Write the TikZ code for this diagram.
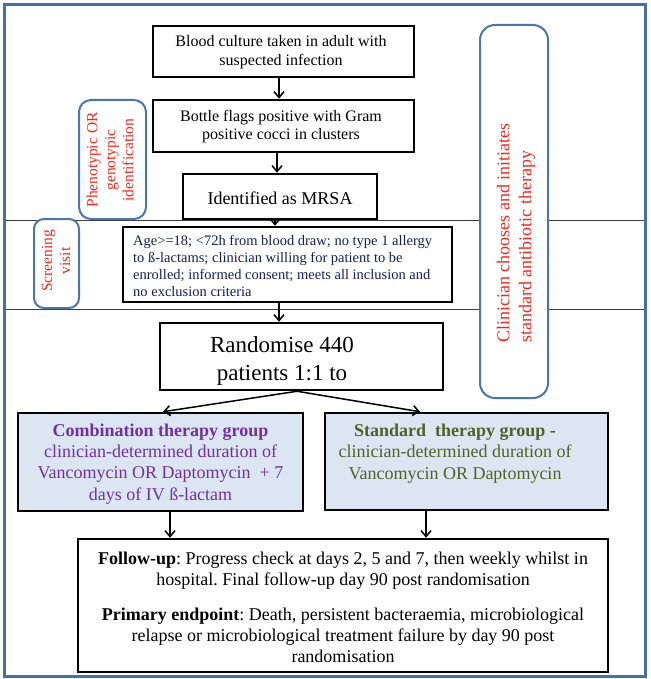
\documentclass[tikz,border=0pt]{standalone}
\usepackage{fontspec}
\setmainfont{Liberation Serif}
\usetikzlibrary{arrows.meta,calc}
\newcommand\myfs[2]{\fontsize{#1}{#2}\selectfont}
\definecolor{frameblue}{RGB}{72,112,162}
\definecolor{rblue}{RGB}{74,118,168}
\definecolor{redtxt}{RGB}{240,40,30}
\definecolor{navytxt}{RGB}{20,30,90}
\definecolor{purpletxt}{RGB}{112,48,160}
\definecolor{olivetxt}{RGB}{79,98,40}
\definecolor{grpfill}{RGB}{220,230,242}
\definecolor{sepgray}{RGB}{60,60,60}
\frenchspacing
\begin{document}
\begin{tikzpicture}[x=1pt,y=-1pt,
  box/.style={draw=black,line width=2.5pt,fill=white,inner sep=0pt},
  grpbox/.style={box,fill=grpfill},
  rbox/.style={draw=rblue,line width=2pt,fill=white,inner sep=0pt},
  txt/.style={inner sep=0pt,align=center},
  vtxt/.style={txt,rotate=90,text=redtxt},
  arr/.style={line width=1.5pt,-{Straight Barb[length=6pt,width=10pt]}},
  sepline/.style={draw=sepgray,line width=1pt}]
\useasboundingbox (0,0) rectangle (650,679);
% frame
\draw[frameblue,line width=3pt] (4.5,4.5) rectangle (645,676);
% separator lines
\coordinate (l1w) at (6,220); \coordinate (l1e) at (643.5,220);
\coordinate (l2w) at (6,309); \coordinate (l2e) at (643.5,309);
\draw[sepline] (l1w) -- (l1e);
\draw[sepline] (l2w) -- (l2e);
% side rounded boxes
\node[rbox,rounded corners=12pt,minimum width=67pt,minimum height=119pt] (pheno) at (112.5,159.5) {};
\node[vtxt,font=\myfs{15.5}{18}] (tp) at (110,160) {Phenotypic OR\\genotypic\\identification};
\node[rbox,rounded corners=10pt,minimum width=45pt,minimum height=89pt] (screen) at (56.5,263.5) {};
\node[vtxt,font=\myfs{15.5}{18}] (ts) at (56,261) {Screening\\visit};
\node[rbox,rounded corners=15pt,minimum width=68pt,minimum height=373pt] (right) at (514,211.5) {};
\node[vtxt,align=left,anchor=west,font=\myfs{18}{22}] (tr) at (516,343) {Clinician chooses and initiates\\standard antibiotic therapy};
% main flow boxes
\node[box,minimum width=261pt,minimum height=51pt] (b1) at (283.5,51.5) {};
\node[txt,font=\myfs{16}{18.4}] (t1) at (281,52) {Blood culture taken in adult with\\suspected infection};
\node[box,minimum width=261pt,minimum height=52pt] (b2) at (283.5,126) {};
\node[txt,font=\myfs{16}{18.4}] (t2) at (281,126.5) {Bottle flags positive with Gram\\positive cocci in clusters};
\node[box,minimum width=194pt,minimum height=45pt] (b3) at (280,196.5) {};
\node[txt,font=\myfs{18}{21}] (t3) at (280,198) {Identified as MRSA};
\node[box,minimum width=329pt,minimum height=75pt] (b4) at (287.5,264.5) {};
\node[txt,align=left,anchor=west,text=navytxt,font=\myfs{14.5}{16.8}] (t4) at (133,266) {Age>=18; <72h from blood draw; no type 1 allergy\\to ß-lactams; clinician willing for patient to be\\enrolled; informed consent; meets all inclusion and\\no exclusion criteria};
\node[box,minimum width=283pt,minimum height=67pt] (b5) at (301.5,356.5) {};
\node[txt,font=\myfs{23}{28}] (t5) at (282,360.5) {Randomise 440\\patients 1:1 to};
\node[grpbox,minimum width=285pt,minimum height=98pt] (b6) at (160.5,462) {};
\node[txt,text=purpletxt,font=\myfs{18}{21.3}] (t6) at (160.5,464) {\textbf{Combination therapy group}\\clinician-determined duration of\\Vancomycin OR Daptomycin\ \ + 7\\days of IV ß-lactam};
\node[grpbox,minimum width=283pt,minimum height=97pt] (b7) at (466.5,461.5) {};
\node[txt,text=olivetxt,font=\myfs{18}{21.3}] (t7) at (455,453.5) {\textbf{Standard\ \ therapy group -}\\clinician-determined duration of\\Vancomycin OR Daptomycin};
\node[box,minimum width=530pt,minimum height=133pt] (b8) at (343,605.5) {};
\node[txt,font=\myfs{18}{21}] (t8) at (343,607) {\textbf{Follow-up}: Progress check at days 2, 5 and 7, then weekly whilst in\\hospital. Final follow-up day 90 post randomisation\\[14pt]\textbf{Primary endpoint}: Death, persistent bacteraemia, microbiological\\relapse or microbiological treatment failure by day 90 post\\randomisation};
% connectors
\draw[arr] ([xshift=-4.5pt]b1.south) -- ([xshift=-4.5pt]b2.north);
\draw[arr] ([xshift=-6.5pt]b2.south) -- ([xshift=-3pt]b3.north);
\draw[arr] ([xshift=-5pt]b3.south) -- ([xshift=-12.5pt]b4.north);
\draw[arr] ([xshift=-8.5pt]b4.south) -- ([xshift=-22.5pt]b5.north);
\draw[arr] ([xshift=-4.5pt]b5.south) -- ([xshift=2.5pt]b6.north);
\draw[arr] ([xshift=-4.5pt]b5.south) -- ([xshift=-46.5pt]b7.north);
\draw[arr] ([xshift=9.5pt]b6.south) -- ([xshift=-173pt]b8.north);
\draw[arr] ([xshift=-40.5pt]b7.south) -- ([xshift=83pt]b8.north);
\end{tikzpicture}
\end{document}
